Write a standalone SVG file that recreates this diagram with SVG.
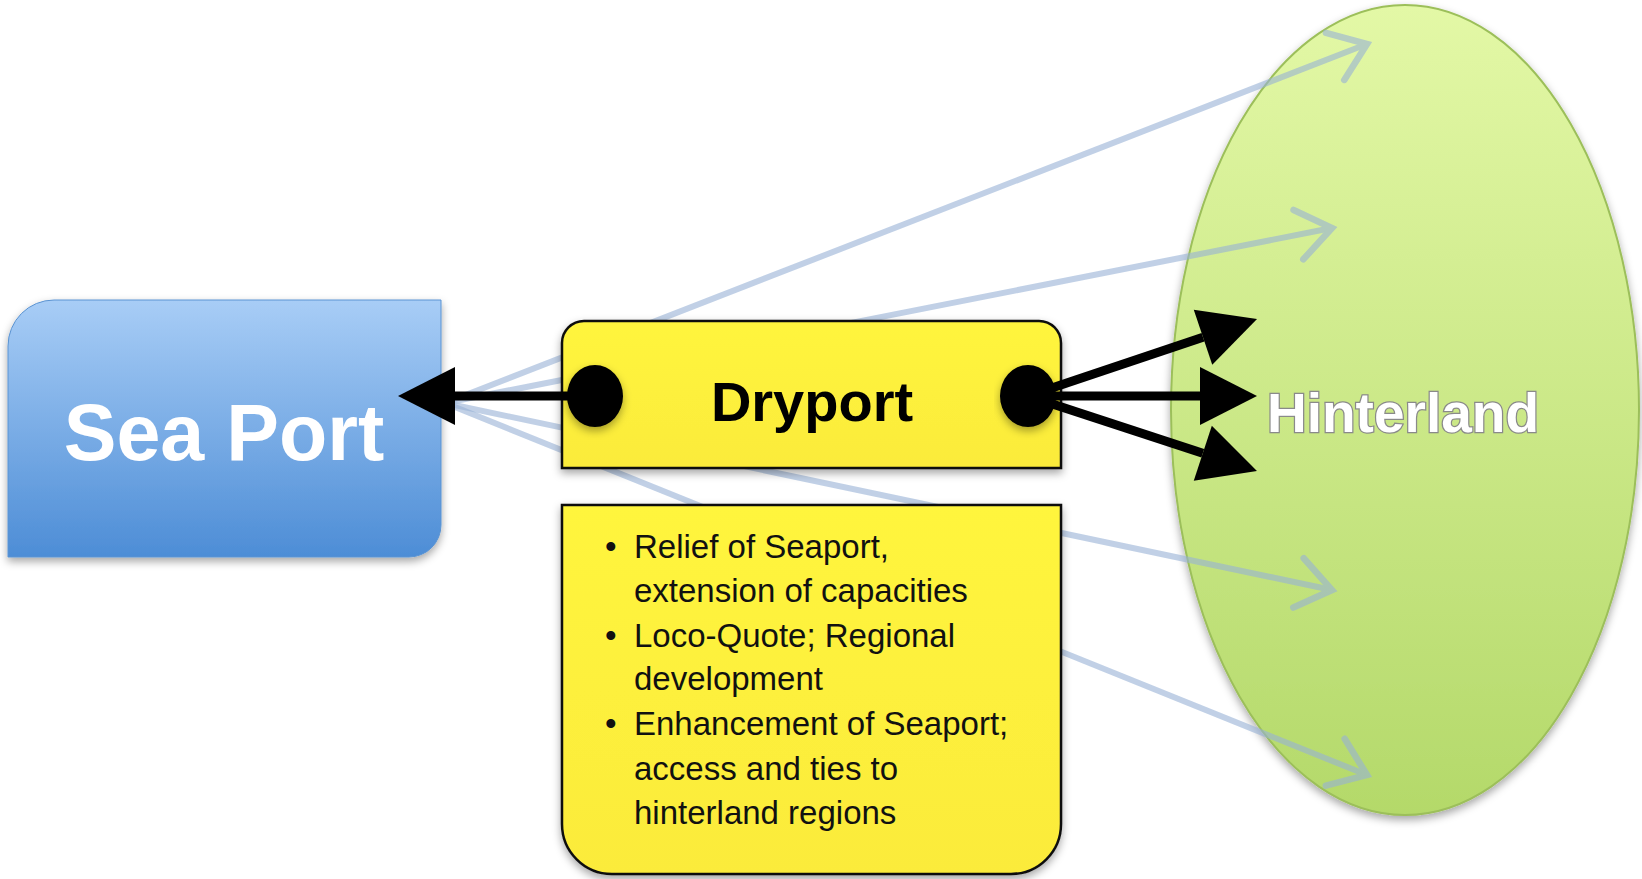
<svg xmlns="http://www.w3.org/2000/svg" width="1642" height="879" viewBox="0 0 1642 879">
<defs>
<linearGradient id="gBlue" x1="0" y1="0" x2="0" y2="1">
<stop offset="0" stop-color="#a8cdf6"/>
<stop offset="1" stop-color="#4d8dd6"/>
</linearGradient>
<linearGradient id="gGreen" x1="0" y1="0" x2="0" y2="1">
<stop offset="0" stop-color="#e3f8a6"/>
<stop offset="1" stop-color="#b4d96a"/>
</linearGradient>
<linearGradient id="gYellow" x1="0" y1="0" x2="0" y2="1">
<stop offset="0" stop-color="#fff53e"/>
<stop offset="1" stop-color="#fbeb3a"/>
</linearGradient>
<filter id="shadow" x="-10%" y="-10%" width="130%" height="130%">
<feDropShadow dx="0" dy="4" stdDeviation="4" flood-color="#000" flood-opacity="0.35"/>
</filter>
<marker id="blackHead" markerWidth="60" markerHeight="60" refX="0" refY="29" orient="auto" markerUnits="userSpaceOnUse" overflow="visible">
<path d="M0,0 L57,29 L0,58 Z" fill="#000"/>
</marker>
<marker id="openHead" markerWidth="8" markerHeight="10" refX="6.5" refY="5" orient="auto" markerUnits="strokeWidth">
<path d="M0.8,0.8 L6.5,5 L0.8,9.2" fill="none" stroke="#98b2d6" stroke-width="1.1" stroke-linecap="round"/>
</marker>
</defs>
<style>
.lbl{font-family:"Liberation Sans",Arial,sans-serif;font-weight:bold}
.body{font-family:"Liberation Sans",Arial,sans-serif;font-size:33px;fill:#111}
.faint{stroke:#98b2d6;stroke-width:6;fill:none;opacity:0.6}
.black{stroke:#000;stroke-width:9;fill:none}
</style>

<g id="hinterland">
<ellipse cx="1405" cy="410" rx="234" ry="405" fill="url(#gGreen)" stroke="#9cbf5a" stroke-width="2" filter="url(#shadow)"/>
</g>

<g id="faint-connectors">
<line class="faint" x1="445" y1="403" x2="1367" y2="44" marker-end="url(#openHead)"/>
<line class="faint" x1="445" y1="403" x2="1332" y2="228" marker-end="url(#openHead)"/>
<line class="faint" x1="445" y1="403" x2="1332" y2="590" marker-end="url(#openHead)"/>
<line class="faint" x1="445" y1="403" x2="1367" y2="775" marker-end="url(#openHead)"/>
</g>

<g id="hinterland-label">
<text class="lbl" x="1403" y="432" font-size="55" text-anchor="middle" fill="#ffffff" stroke="#8a8a8a" stroke-width="2.5" paint-order="stroke">Hinterland</text>
</g>

<g id="seaport">
<path d="M54 300 H441 V525 A32 32 0 0 1 409 557 H8 V346 A46 46 0 0 1 54 300 Z" fill="url(#gBlue)" stroke="#5a93d2" stroke-width="1" filter="url(#shadow)"/>
<text class="lbl" x="224" y="460" font-size="79" text-anchor="middle" fill="#ffffff">Sea Port</text>
</g>

<g id="dryport">
<path d="M584 321 H1039 A22 22 0 0 1 1061 343 V468 H562 V343 A22 22 0 0 1 584 321 Z" fill="url(#gYellow)" stroke="#111" stroke-width="2.5" filter="url(#shadow)"/>
<text class="lbl" x="812" y="421" font-size="56" text-anchor="middle" fill="#000">Dryport</text>
</g>

<g id="benefits">
<path d="M562 505 H1061 V824 A50 50 0 0 1 1011 874 H612 A50 50 0 0 1 562 824 Z" fill="url(#gYellow)" stroke="#111" stroke-width="2.5" filter="url(#shadow)"/>
<g class="body">
<text x="605" y="558">•</text><text x="634" y="558">Relief of Seaport,</text>
<text x="634" y="602">extension of capacities</text>
<text x="605" y="647">•</text><text x="634" y="647">Loco-Quote; Regional</text>
<text x="634" y="690">development</text>
<text x="605" y="735">•</text><text x="634" y="735">Enhancement of Seaport;</text>
<text x="634" y="780">access and ties to</text>
<text x="634" y="824">hinterland regions</text>
</g>
</g>

<g id="connectors">
<line class="black" x1="595" y1="396" x2="455" y2="396" marker-end="url(#blackHead)"/>
<line class="black" x1="1028" y1="396" x2="1203" y2="337.2" marker-end="url(#blackHead)"/>
<line class="black" x1="1028" y1="396" x2="1200" y2="396" marker-end="url(#blackHead)"/>
<line class="black" x1="1028" y1="396" x2="1202.8" y2="453.3" marker-end="url(#blackHead)"/>
<ellipse cx="595" cy="396" rx="28" ry="31" fill="#000" filter="url(#shadow)"/>
<ellipse cx="1028" cy="396" rx="28" ry="31" fill="#000" filter="url(#shadow)"/>
</g>
</svg>
